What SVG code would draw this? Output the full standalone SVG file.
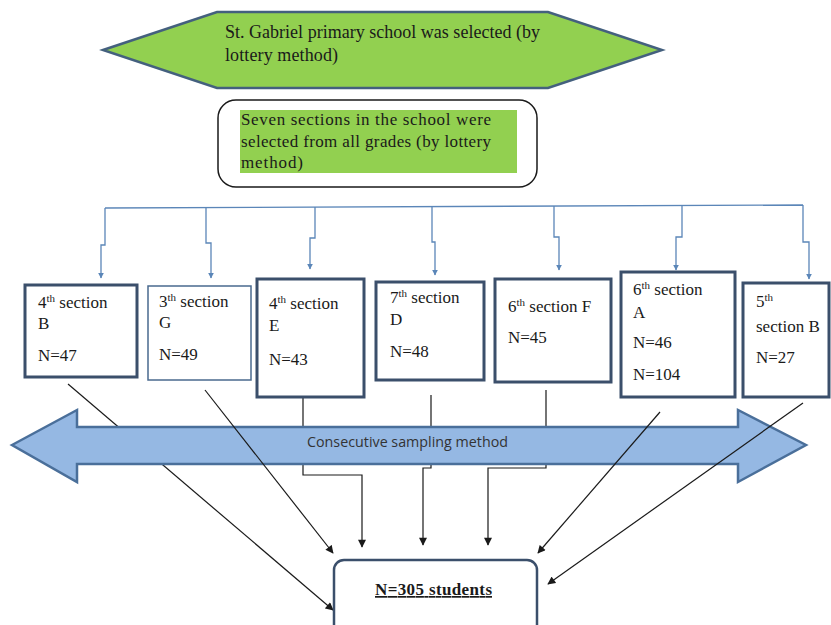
<svg xmlns="http://www.w3.org/2000/svg" width="831" height="625" viewBox="0 0 831 625">
<style>
text.serif{font-family:'Liberation Serif',serif;fill:#1a1a1a;}
.t16{font-size:17px;}
.sup{font-size:11px;}
.box{fill:#fff;stroke:#3b4f6b;stroke-width:3;}
.thin{fill:#fff;stroke:#4a6a8e;stroke-width:1.5;}
.blue{fill:none;stroke:#5b86b8;stroke-width:1.3;}
.blk{fill:none;stroke:#1a1a1a;stroke-width:1.2;}
</style>
<defs>
<marker id="ab" viewBox="0 0 10 10" refX="9" refY="5" markerWidth="6" markerHeight="6" orient="auto" markerUnits="userSpaceOnUse">
<path d="M0,0 L10,5 L0,10 z" fill="#5b86b8"/>
</marker>
<marker id="ak" viewBox="0 0 10 10" refX="9" refY="5" markerWidth="9" markerHeight="8" orient="auto" markerUnits="userSpaceOnUse">
<path d="M0,0 L10,5 L0,10 z" fill="#1a1a1a"/>
</marker>
</defs>

<g id="school">
<polygon points="103,50 217,12 548,12 662,50 548,88 217,88" fill="#92d050" stroke="#44607e" stroke-width="2.5"/>
<text class="serif" font-family="Liberation Serif, serif" font-size="18" x="225" y="38" textLength="315" lengthAdjust="spacing">St. Gabriel primary school was selected (by</text>
<text class="serif" font-family="Liberation Serif, serif" font-size="18" x="225" y="61" textLength="113" lengthAdjust="spacing">lottery method)</text>
</g>

<g id="sections">
<rect x="218" y="100" width="319" height="87" rx="18" ry="18" fill="#fff" stroke="#1a1a1a" stroke-width="1.5"/>
<rect x="240" y="110" width="277" height="63" fill="#92d050"/>
<text class="serif" font-family="Liberation Serif, serif" font-size="17" x="241" y="125" textLength="250" lengthAdjust="spacing">Seven sections in the school were</text>
<text class="serif" font-family="Liberation Serif, serif" font-size="17" x="241" y="147" textLength="250" lengthAdjust="spacing">selected from all grades (by lottery</text>
<text class="serif" font-family="Liberation Serif, serif" font-size="17" x="241" y="168" textLength="62" lengthAdjust="spacing">method)</text>
</g>

<g id="connectors-behind">
<path class="blk" d="M68,384 L333,610" marker-end="url(#ak)"/>
<path class="blk" d="M303,397 V475 H362 V547" marker-end="url(#ak)"/>
<path class="blk" d="M431,395 V468 H423 V545" marker-end="url(#ak)"/>
<path class="blk" d="M546,390 V468 H488 V545" marker-end="url(#ak)"/>
</g>

<g id="sampling">
<polygon points="12,445 77,410 77,427 738,427 738,410 806,445 738,482 738,464 77,464 77,482" fill="#95b8e3" stroke="#4a6f9a" stroke-width="2.5"/>
<text x="307" y="447" font-family="'Open Sans','Liberation Sans',sans-serif" font-size="14" fill="#333" textLength="201" lengthAdjust="spacingAndGlyphs">Consecutive sampling method</text>
</g>

<g id="connectors">
<path class="blue" d="M105,208 L803,205"/>
<path class="blue" d="M105,208 V245 H101 V278" marker-end="url(#ab)"/>
<path class="blue" d="M206,208 V243 H211 V278" marker-end="url(#ab)"/>
<path class="blue" d="M315,207 V238 H310 V269" marker-end="url(#ab)"/>
<path class="blue" d="M432,206 V242 H435 V275" marker-end="url(#ab)"/>
<path class="blue" d="M554,206 V237 H559 V270" marker-end="url(#ab)"/>
<path class="blue" d="M682,205 V237 H676 V270" marker-end="url(#ab)"/>
<path class="blue" d="M803,205 V242 H809 V279" marker-end="url(#ab)"/>
<path class="blk" d="M205,390 L333,553" marker-end="url(#ak)"/>
<path class="blk" d="M660,412 L538,553" marker-end="url(#ak)"/>
<path class="blk" d="M803,403 L548,584" marker-end="url(#ak)"/>
</g>

<g id="box-4B" font-family="Liberation Serif, serif">
<rect class="box" x="25" y="285" width="112" height="92"/>
<text class="serif t16" x="38" y="308">4<tspan class="sup" dy="-6">th</tspan><tspan dy="6"> section</tspan></text>
<text class="serif t16" x="38" y="329">B</text>
<text class="serif t16" x="38" y="361">N=47</text>
</g>

<g id="box-3G" font-family="Liberation Serif, serif">
<rect class="thin" x="148" y="286" width="103" height="94"/>
<text class="serif t16" x="159" y="307">3<tspan class="sup" dy="-6">th</tspan><tspan dy="6"> section</tspan></text>
<text class="serif t16" x="159" y="328">G</text>
<text class="serif t16" x="159" y="360">N=49</text>
</g>

<g id="box-4E" font-family="Liberation Serif, serif">
<rect class="box" x="257" y="279" width="107" height="118"/>
<text class="serif t16" x="269" y="309">4<tspan class="sup" dy="-6">th</tspan><tspan dy="6"> section</tspan></text>
<text class="serif t16" x="269" y="331">E</text>
<text class="serif t16" x="269" y="365">N=43</text>
</g>

<g id="box-7D" font-family="Liberation Serif, serif">
<rect class="box" x="376" y="282" width="108" height="98"/>
<text class="serif t16" x="390" y="303">7<tspan class="sup" dy="-6">th</tspan><tspan dy="6"> section</tspan></text>
<text class="serif t16" x="390" y="325">D</text>
<text class="serif t16" x="390" y="357">N=48</text>
</g>

<g id="box-6F" font-family="Liberation Serif, serif">
<rect class="box" x="495" y="279" width="116" height="103"/>
<text class="serif t16" x="508" y="312">6<tspan class="sup" dy="-6">th</tspan><tspan dy="6"> section F</tspan></text>
<text class="serif t16" x="508" y="343">N=45</text>
</g>

<g id="box-6A" font-family="Liberation Serif, serif">
<rect class="box" x="621" y="272" width="114" height="125" stroke-width="2.5"/>
<text class="serif t16" x="633" y="295">6<tspan class="sup" dy="-6">th</tspan><tspan dy="6"> section</tspan></text>
<text class="serif t16" x="633" y="318">A</text>
<text class="serif t16" x="633" y="348">N=46</text>
<text class="serif t16" x="633" y="380">N=104</text>
</g>

<g id="box-5B" font-family="Liberation Serif, serif">
<rect class="box" x="743" y="283" width="86" height="114"/>
<text class="serif t16" x="756" y="307">5<tspan class="sup" dy="-6">th</tspan></text>
<text class="serif t16" x="756" y="332">section B</text>
<text class="serif t16" x="756" y="363">N=27</text>
</g>

<g id="total" font-family="Liberation Serif, serif">
<rect x="334" y="560" width="203" height="85" rx="10" ry="10" fill="#fff" stroke="#3b4f6b" stroke-width="2.5"/>
<text class="serif" x="375" y="595" font-size="17" font-weight="bold" text-decoration="underline" textLength="117" lengthAdjust="spacing">N=305 students</text>
</g>
</svg>
